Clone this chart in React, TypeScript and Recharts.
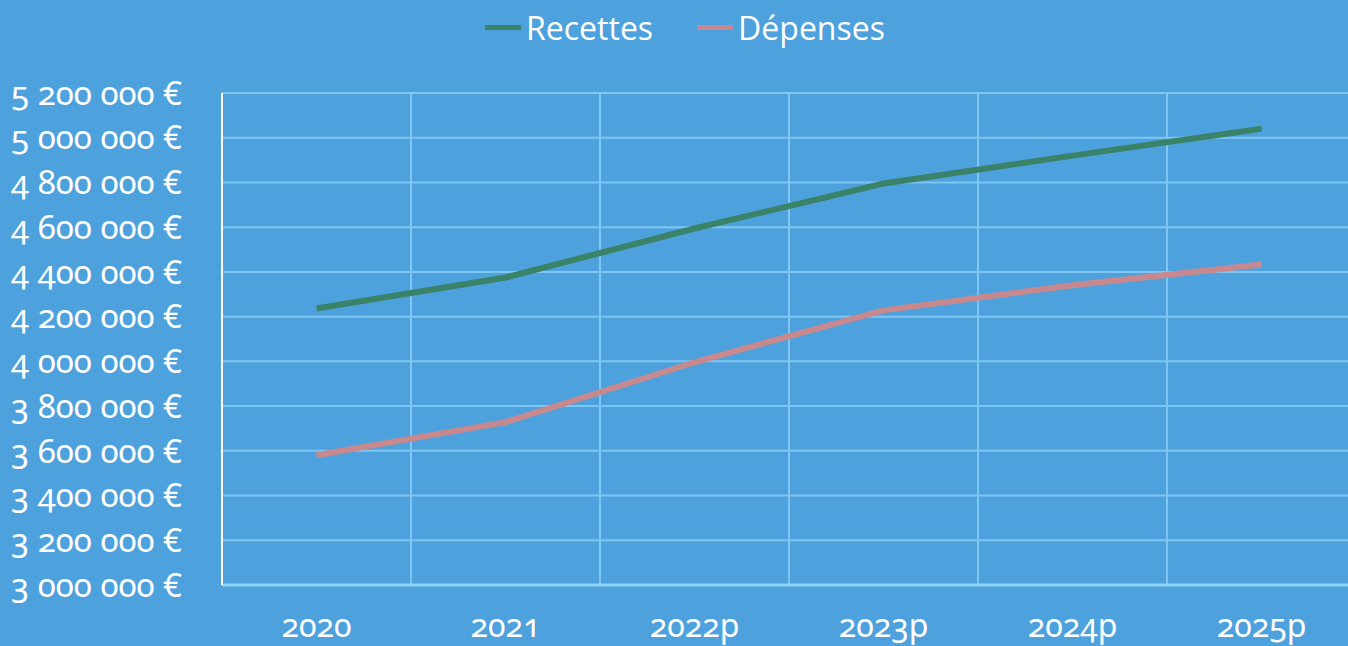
import { CartesianGrid, Legend, Line, LineChart, XAxis, YAxis } from 'recharts'

const years = ['2020', '2021', '2022p', '2023p', '2024p', '2025p']
const recettes = [4236000, 4375000, 4594000, 4795000, 4920000, 5040000]
const depenses = [3580000, 3728000, 3996000, 4228000, 4340000, 4433000]
const yTicks = [3000000, 3200000, 3400000, 3600000, 3800000, 4000000, 4200000, 4400000, 4600000, 4800000, 5000000, 5200000]

const data = years.map((year, i) => ({ year, recettes: recettes[i], depenses: depenses[i] }))

const BG = '#4da2dd'
const GRID = '#80c6f2'
const GREEN = '#3a8268'
const PINK = '#c7888e'
const FONT = '"Noto Sans", "Open Sans", sans-serif'

const fmtEuro = (v: number) => {
  const s = String(v)
  return `${s.slice(0, 1)} ${s.slice(1, 4)} ${s.slice(4)} €`
}

function LegendContent() {
  const items = [
    { label: 'Recettes', color: GREEN },
    { label: 'Dépenses', color: PINK },
  ]
  return (
    <div style={{ display: 'flex', justifyContent: 'center', gap: 44, fontFamily: '"Open Sans", sans-serif', fontSize: 32, color: '#fff', paddingLeft: 14 }}>
      {items.map((it) => (
        <div key={it.label} style={{ display: 'flex', alignItems: 'center' }}>
          <span style={{ display: 'inline-block', width: 36, height: 5, background: it.color, marginRight: 5 }} />
          {it.label}
        </div>
      ))}
    </div>
  )
}

export default function App() {
  const W = 1356
  const H = 646
  const band = (W - 222) / years.length
  const yTickStyle = { fill: '#fff', fontSize: 33, fontFamily: FONT, style: { fontVariantNumeric: 'oldstyle-nums' } }
  const xTickStyle = { ...yTickStyle, fontSize: 32 }
  return (
    <div style={{ position: 'fixed', left: 0, top: 0, width: 1348, height: 646, overflow: 'hidden', background: BG }}>
      <LineChart width={W} height={H} data={data} margin={{ top: 50, right: 0, left: 0, bottom: 0 }}>
        <CartesianGrid
          stroke={GRID}
          strokeWidth={2}
          verticalCoordinatesGenerator={({ offset }: any) =>
            years.slice(1).map((_, i) => offset.left + ((i + 1) * offset.width) / years.length)
          }
        />
        <XAxis
          dataKey="year"
          height={61}
          padding={{ left: band / 2, right: band / 2 }}
          axisLine={{ stroke: '#8fd0f6', strokeWidth: 3 }}
          tickLine={false}
          tickSize={0}
          tickMargin={29}
          tick={xTickStyle}
        />
        <YAxis
          width={222}
          domain={[3000000, 5200000]}
          ticks={yTicks}
          interval={0}
          axisLine={{ stroke: '#ffffff', strokeWidth: 2 }}
          tickLine={false}
          tickSize={0}
          tickMargin={40}
          tickFormatter={fmtEuro}
          tick={yTickStyle}
        />
        <Legend
          verticalAlign="top"
          align="center"
          wrapperStyle={{ top: 6, left: 0, width: W }}
          content={() => <LegendContent />}
        />
        <Line dataKey="recettes" name="Recettes" stroke={GREEN} strokeWidth={6} dot={false} isAnimationActive={false} />
        <Line dataKey="depenses" name="Dépenses" stroke={PINK} strokeWidth={6} dot={false} isAnimationActive={false} />
      </LineChart>
    </div>
  )
}
